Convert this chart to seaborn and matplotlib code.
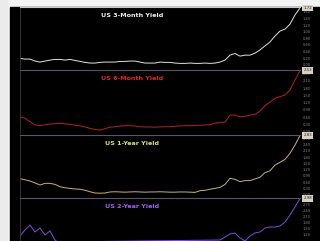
import numpy as np
import pandas as pd
import matplotlib
matplotlib.use("Agg")
import matplotlib.pyplot as plt
from matplotlib.patches import Rectangle
import seaborn as sns

# === DATA (one point every ~5 px) ===
dates = pd.date_range("2020-05-03", periods=57, freq="2W")

yield_3m = [0.19, 0.17, 0.17, 0.11, 0.08, 0.11, 0.14, 0.16, 0.16, 0.14,
            0.16, 0.13, 0.10, 0.07, 0.05, 0.05, 0.07, 0.08, 0.08, 0.08,
            0.10, 0.10, 0.11, 0.11, 0.08, 0.05, 0.05, 0.05, 0.08, 0.07,
            0.07, 0.05, 0.04, 0.04, 0.05, 0.04, 0.04, 0.05, 0.04, 0.05,
            0.08, 0.14, 0.29, 0.34, 0.26, 0.29, 0.29, 0.35, 0.45, 0.57,
            0.69, 0.87, 1.02, 1.08, 1.23, 1.51, 1.72]

yield_6m = [0.62, 0.56, 0.42, 0.28, 0.25, 0.29, 0.32, 0.33, 0.35, 0.33,
            0.31, 0.27, 0.25, 0.20, 0.14, 0.10, 0.07, 0.13, 0.19, 0.21,
            0.24, 0.25, 0.25, 0.24, 0.21, 0.20, 0.20, 0.19, 0.20, 0.21,
            0.21, 0.23, 0.24, 0.25, 0.25, 0.25, 0.27, 0.28, 0.29, 0.35,
            0.39, 0.39, 0.69, 0.69, 0.62, 0.64, 0.69, 0.72, 0.86, 1.08,
            1.22, 1.38, 1.45, 1.52, 1.72, 2.14, 2.53]

yield_1y = [0.77, 0.72, 0.66, 0.57, 0.47, 0.55, 0.55, 0.50, 0.39, 0.34,
            0.31, 0.28, 0.27, 0.22, 0.15, 0.09, 0.08, 0.09, 0.14, 0.15,
            0.14, 0.13, 0.14, 0.15, 0.14, 0.13, 0.14, 0.14, 0.15, 0.14,
            0.13, 0.13, 0.14, 0.14, 0.13, 0.12, 0.20, 0.22, 0.27, 0.31,
            0.36, 0.50, 0.79, 0.74, 0.63, 0.68, 0.68, 0.76, 0.84, 1.06,
            1.15, 1.42, 1.55, 1.69, 1.98, 2.37, 2.83]

yield_2y = [1.10, 1.40, 1.65, 1.30, 1.50, 1.15, 1.35, 0.90, 0.70, 0.60,
            0.50, 0.45, 0.40, 0.35, 0.30, 0.30, 0.25, 0.30, 0.35, 0.35,
            0.40, 0.40, 0.35, 0.35, 0.30, 0.30, 0.35, 0.40, 0.40, 0.45,
            0.45, 0.50, 0.50, 0.55, 0.55, 0.60, 0.65, 0.70, 0.75, 0.80,
            0.90, 1.05, 1.20, 1.25, 1.00, 0.85, 1.10, 1.25, 1.30, 1.50,
            1.55, 1.55, 1.60, 1.80, 2.15, 2.55, 2.98]

titles = ["US 3-Month Yield", "US 6-Month Yield", "US 1-Year Yield", "US 2-Year Yield"]
series = [yield_3m, yield_6m, yield_1y, yield_2y]

# right-axis tick values per panel
ticks_3m = [0.0, 0.2, 0.4, 0.6, 0.8, 1.0, 1.2, 1.4, 1.6]
ticks_6m = [0.0, 0.3, 0.6, 0.9, 1.2, 1.5, 1.8, 2.1, 2.4]
ticks_1y = [0.0, 0.3, 0.6, 0.9, 1.2, 1.5, 1.8, 2.1, 2.4, 2.7]
ticks_2y = [1.2, 1.5, 1.8, 2.1, 2.4, 2.7]
tick_sets = [ticks_3m, ticks_6m, ticks_1y, ticks_2y]

# === STYLE ===
line_colors = ["#e2e2e2", "#b8202c", "#c9b272", "#7d4fe0"]
title_colors = ["#f2f2f2", "#e0262a", "#d9e46a", "#a462f2"]
ylims = [(-0.1, 1.75), (-0.05, 2.55), (-0.1, 2.85), (-0.1, 3.0)]
# panel [top, bottom] in pixels of a 320x241 canvas
panels = [(7, 68), (70, 133), (135, 197), (198, 260)]

sns.set_theme(style="dark", rc={"axes.facecolor": "black",
                                "figure.facecolor": "#f3f3f3"})

W, H = 320, 241
fig = plt.figure(figsize=(W / 100, H / 100), dpi=100)
fig.patches.append(Rectangle((10 / W, 0), 1 - 10 / W, (H - 7) / H,
                             transform=fig.transFigure, color="black", zorder=-10))
fig.patches.append(Rectangle((0, 0), 7 / W, 1, transform=fig.transFigure,
                             color="#ebebeb", zorder=-10))

for i, (name, vals) in enumerate(zip(titles, series)):
    top, bot = panels[i]
    ax = fig.add_axes([20 / W, (H - bot) / H, 280 / W, (bot - top) / H])
    df = pd.DataFrame({"date": dates, "yield": vals})
    sns.lineplot(data=df, x="date", y="yield", ax=ax, color=line_colors[i], lw=0.7)
    ax.set_facecolor("black")
    ax.set_xlim(dates[0], dates[-1])
    ax.set_ylim(*ylims[i])
    ax.set_xlabel("")
    ax.set_ylabel("")
    ax.set_xticks([])
    ax.grid(False)
    ax.yaxis.tick_right()
    ax.set_yticks(tick_sets[i])
    ax.set_yticklabels([f"{t:.2f}" for t in tick_sets[i]])
    ax.tick_params(axis="y", labelsize=2.6, colors="#8a8a8a", length=0, pad=2)
    for s in ["right", "bottom"]:
        ax.spines[s].set_visible(False)
    ax.spines["left"].set_color("#3a3a3a")
    ax.spines["left"].set_linewidth(0.6)
    ax.spines["top"].set_color("#c8c8c8" if i == 0 else "#5c5468")
    ax.spines["top"].set_linewidth(0.8)
    ax.text(0.40, 0.86, name, transform=ax.transAxes, ha="center", va="center",
            fontsize=4.6, fontweight="bold", color=title_colors[i])
    ax.text(1.012, vals[-1], f"{vals[-1]:.2f}", transform=ax.get_yaxis_transform(),
            ha="left", va="center", fontsize=2.8, color="#202020",
            bbox=dict(facecolor="#d8d2c4", edgecolor="none", pad=0.8))

fig.savefig("out.png", dpi=100)
